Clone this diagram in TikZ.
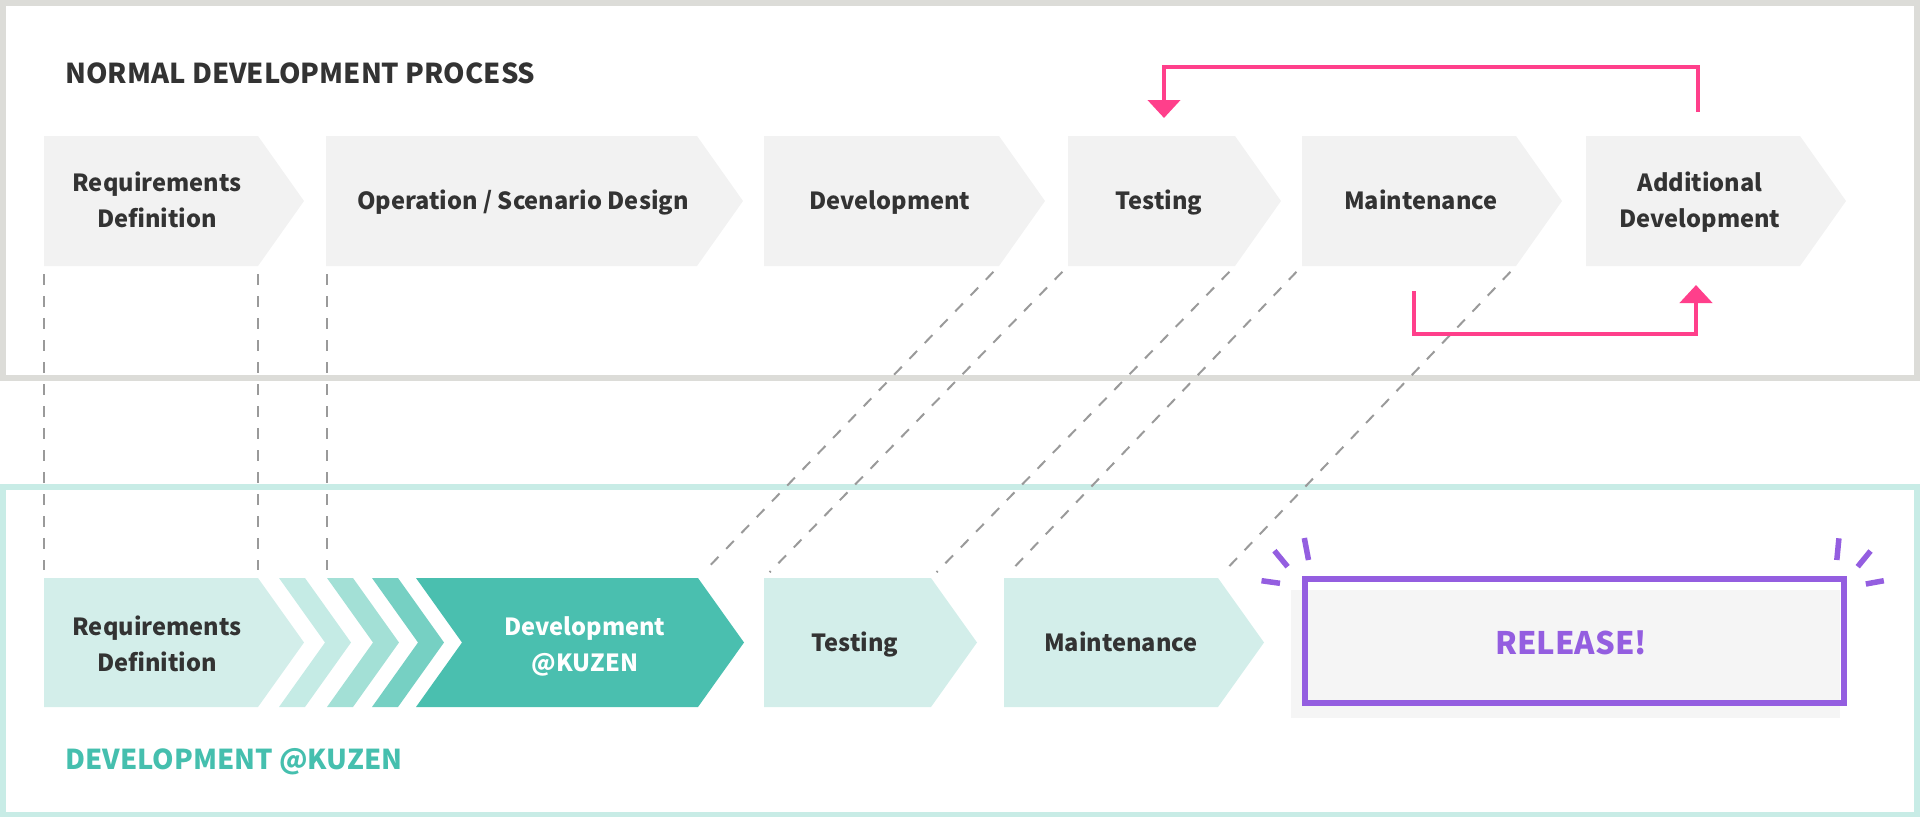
\documentclass[tikz,border=0pt]{standalone}
\usepackage{fontspec}
\setmainfont{Noto Sans CJK JP}
\usetikzlibrary{arrows.meta}
\definecolor{boxgray}{HTML}{DCDCD8}
\definecolor{chevgray}{HTML}{F2F2F2}
\definecolor{txtdark}{HTML}{333333}
\definecolor{pinkc}{HTML}{FF3F8B}
\definecolor{tealborder}{HTML}{C8ECE6}
\definecolor{tealA}{HTML}{D3EEEA}
\definecolor{tealB}{HTML}{C5EBE5}
\definecolor{tealC}{HTML}{A3E0D6}
\definecolor{tealD}{HTML}{76D0C3}
\definecolor{tealE}{HTML}{4ABFAF}
\definecolor{tealtxt}{HTML}{45BFAE}
\definecolor{purplec}{HTML}{945EE0}
\definecolor{relgray}{HTML}{F5F5F5}
\definecolor{dashgray}{HTML}{9A9A9A}
\newcommand{\chevshape}[5]{%
  \fill[#5] (#1,#3) -- (#2,#3) -- ({#2+46},{(#3+#4)/2}) -- (#2,#4) -- (#1,#4) -- cycle;}
\newcommand{\bandshape}[5]{%
  \fill[#5] (#1,#3) -- (#2,#3) -- ({#2+46},{(#3+#4)/2}) -- (#2,#4) -- (#1,#4) -- ({#1+46},{(#3+#4)/2}) -- cycle;}
\begin{document}
\begin{tikzpicture}[x=0.5pt,y=-0.5pt,
  lbl/.style={font=\bfseries\fontsize{11.8}{18}\selectfont, text=txtdark, align=center, inner sep=0pt},
  heading/.style={font=\bfseries\fontsize{13.7}{18}\selectfont, inner sep=0pt, anchor=base west},
  guide/.style={draw=dashgray, line width=1pt, dash pattern=on 5.5pt off 5.5pt, shorten <=4pt, shorten >=4pt},
  loop/.style={draw=pinkc, line width=2.25pt, -{Triangle[width=16pt,length=9pt]}},
  spark/.style={draw=purplec, line width=2.75pt}]
\useasboundingbox (0,0) rectangle (1920,820);
% frames
\draw[boxgray, line width=3pt] (3,3) rectangle (1917,378);
\draw[tealborder, line width=2.75pt] (3,487) rectangle (1917,814.5);
% headings
\node[heading, text=txtdark] (h1) at (65,83) {NORMAL DEVELOPMENT PROCESS};
\node[heading, text=tealtxt] (h2) at (65,769) {DEVELOPMENT @KUZEN};
% top chevrons
\chevshape{44}{258}{136}{266}{chevgray}
\chevshape{326}{697}{136}{266}{chevgray}
\chevshape{764}{999}{136}{266}{chevgray}
\chevshape{1068}{1235}{136}{266}{chevgray}
\chevshape{1302}{1516}{136}{266}{chevgray}
\chevshape{1586}{1800}{136}{266}{chevgray}
\node[lbl] (tReq) at (157,199.5) {Requirements\\Definition};
\node[lbl, anchor=base] (tOp) at (523,209) {Operation / Scenario Design};
\node[lbl, anchor=base] (tDev) at (890,209) {Development};
\node[lbl, anchor=base] (tTest) at (1159,209) {Testing};
\node[lbl, anchor=base] (tMaint) at (1421,209) {Maintenance};
\node[lbl] (tAdd) at (1700,202.5) {Additional\\Development};
% bottom chevrons
\chevshape{44}{258}{578}{707}{tealA}
\bandshape{279}{305}{578}{707}{tealB}
\bandshape{327}{353}{578}{707}{tealC}
\bandshape{372}{398}{578}{707}{tealD}
\bandshape{416}{698}{578}{707}{tealE}
\chevshape{764}{931}{578}{707}{tealA}
\chevshape{1004}{1218}{578}{707}{tealA}
\node[lbl] (bReq) at (157,643.5) {Requirements\\Definition};
\node[lbl, text=white] (bDev) at (585,646.5) {Development\\@KUZEN};
\node[lbl, anchor=base] (bTest) at (855,651) {Testing};
\node[lbl, anchor=base] (bMaint) at (1121,651) {Maintenance};
% release
\fill[relgray] (1291,590) rectangle (1840,718);
\draw[purplec, line width=3pt] (1305,579) rectangle (1844,703);
\node[font=\bfseries\fontsize{15.5}{20}\selectfont, text=purplec, inner sep=0pt, anchor=base] (rel) at (1571,654) {RELEASE!};
\draw[spark] (1304.3,538) -- (1308.5,560);
\draw[spark] (1274.4,550.7) -- (1287.6,566.7);
\draw[spark] (1261.5,580.7) -- (1280,583.3);
\draw[spark] (1838.9,538.3) -- (1836.8,560);
\draw[spark] (1870.5,551) -- (1857.7,566.7);
\draw[spark] (1883.8,580.7) -- (1865.8,584);
% corner coordinates for guides
\coordinate (u1) at (44,266);   \coordinate (d1) at (44,578);
\coordinate (u2) at (258,266);  \coordinate (d2) at (258,578);
\coordinate (u3) at (327,266);  \coordinate (d3) at (327,578);
\coordinate (u4) at (999,266);  \coordinate (d4) at (698,578);
\coordinate (u5) at (1068,266); \coordinate (d5) at (764,578);
\coordinate (u6) at (1235,266); \coordinate (d6) at (931,578);
\coordinate (u7) at (1302,266); \coordinate (d7) at (1004,578);
\coordinate (u8) at (1516,266); \coordinate (d8) at (1218,578);
\foreach \i in {1,...,8} {\draw[guide] (u\i) -- (d\i);}
% loops
\coordinate (a1) at (1698,112);
\coordinate (a2) at (1164,118);
\draw[loop] (a1) -- ++(0,-45) -| (a2);
\coordinate (b1) at (1414,291);
\coordinate (b2) at (1696,285);
\draw[loop] (b1) -- ++(0,43) -| (b2);
\end{tikzpicture}
\end{document}
